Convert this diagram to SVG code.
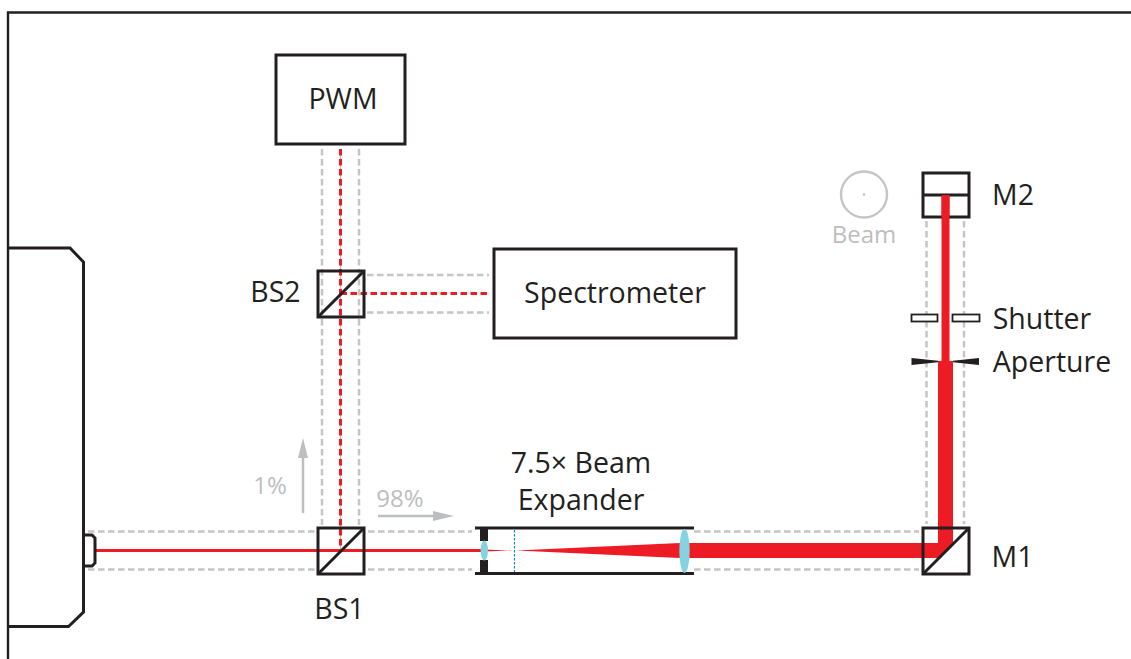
<svg xmlns="http://www.w3.org/2000/svg" width="1131" height="659" viewBox="0 0 1131 659">
<style>
.k{fill:none;stroke:#231f20;stroke-width:3}
.f{fill:none;stroke:#231f20;stroke-width:2.4}
.g{fill:none;stroke:#c4c5c8;stroke-width:2.500;stroke-dasharray:6.500 3.500}
.r{fill:none;stroke:#ed1c24;stroke-width:3;stroke-dasharray:6.500 3.500}
.t{font-family:"Open Sans","Noto Sans",sans-serif;font-size:28.5px;fill:#231f20;text-anchor:middle}
.m{font-family:"Open Sans","Noto Sans",sans-serif;font-size:24px;fill:#bcbec0;text-anchor:middle}
</style>
<g id="frame"><path class="f" d="M1131 12.500H8V659"/></g>
<g id="connectors">
<path class="g" d="M88 531.500H316M88 569.500H316M368 531.500H472M368 569.500H472M694 531.500H919M694 569.500H919"/>
<path class="g" d="M322 149V525M359 149V525"/>
<path class="g" d="M367 275H489M367 312.500H489"/>
<path class="g" d="M926.500 221V524M964 221V524"/>
<path d="M340.500 149V551" fill="none" stroke="#ed1c24" stroke-width=".8" opacity=".5"/>
<path class="r" d="M340.500 149V546M340.500 293.500H490"/>
<path d="M95 550.500H481" stroke="#ed1c24" stroke-width="3" fill="none"/>
<path d="M484 549.500L513 550.500L484 551.500ZM516 550.500L680 543V558Z" fill="#ed1c24"/>
<path d="M680 543H938V361H953V544L939 558H680Z" fill="#ed1c24"/>
<rect x="941.500" y="195" width="8" height="167" fill="#ed1c24"/>
</g>
<g id="laser"><path class="k" d="M8 248H70L83.500 262V612L68.500 626.500H8"/><path class="k" d="M84 535H92L95 538V563L92 566H84"/></g>
<g id="BS1"><rect class="k" x="318" y="528" width="46" height="46"/><path class="k" d="M318 574L364 528"/><text class="t" x="339.500" y="619">BS1</text></g>
<g id="BS2"><rect class="k" x="318" y="271" width="46" height="46"/><path class="k" d="M318 317L364 271"/><text class="t" x="275.500" y="302">BS2</text></g>
<g id="M1"><rect class="k" x="923" y="528" width="46" height="46"/><path class="k" d="M923 574L969 528"/><text class="t" x="1012.500" y="567">M1</text></g>
<g id="PWM"><rect class="k" x="276" y="55" width="129" height="89"/><text class="t" x="343" y="109">PWM</text></g>
<g id="Spectrometer"><rect class="k" x="494" y="249" width="242" height="89"/><text class="t" x="615" y="303">Spectrometer</text></g>
<g id="M2"><rect class="k" x="923" y="173" width="46" height="44"/><path class="k" d="M923 195H969"/><rect x="941.500" y="195" width="8" height="24" fill="#ed1c24"/><text class="t" x="1013" y="205">M2</text></g>
<g id="beam"><circle cx="864" cy="194.500" r="23" fill="none" stroke="#c4c5c8" stroke-width="2.400"/><circle cx="864" cy="194.500" r="1.300" fill="#bcbec0"/><text class="m" x="864" y="243">Beam</text></g>
<g id="shutter"><rect x="911.500" y="314.500" width="26" height="7" fill="#fff" stroke="#231f20" stroke-width="1.800"/><rect x="952.500" y="314.500" width="27" height="7" fill="#fff" stroke="#231f20" stroke-width="1.800"/><text class="t" x="1042" y="329">Shutter</text></g>
<g id="aperture"><path d="M911.500 358L938 360.700V362.300L911.500 365ZM979 358L953 360.700V362.300L979 365Z" fill="#231f20"/><text class="t" x="1052" y="372">Aperture</text></g>
<g id="expander"><path class="k" d="M475 528H694M475 573.500H694"/><rect x="480" y="529" width="8" height="12" fill="#231f20"/><rect x="480" y="560" width="8" height="13" fill="#231f20"/><ellipse cx="484.300" cy="550.500" rx="3.700" ry="10" fill="#84d3e0"/><ellipse cx="684.500" cy="551" rx="5.200" ry="22" fill="#84d3e0"/><path d="M514.500 530V572" stroke="#0c8ccf" stroke-width="1.200" stroke-dasharray="2.500 1.500" fill="none"/><text class="t" x="581" y="473">7.5× Beam</text><text class="t" x="581" y="510">Expander</text></g>
<g id="labels"><text class="m" x="270" y="494">1%</text><path d="M303 513V456" stroke="#bcbec0" stroke-width="2.500"/><path d="M303 438L308 458H298Z" fill="#bcbec0"/><text class="m" x="400" y="507">98%</text><path d="M378 516H435" stroke="#bcbec0" stroke-width="2.500"/><path d="M454 516L433 511V521Z" fill="#bcbec0"/></g>
</svg>
